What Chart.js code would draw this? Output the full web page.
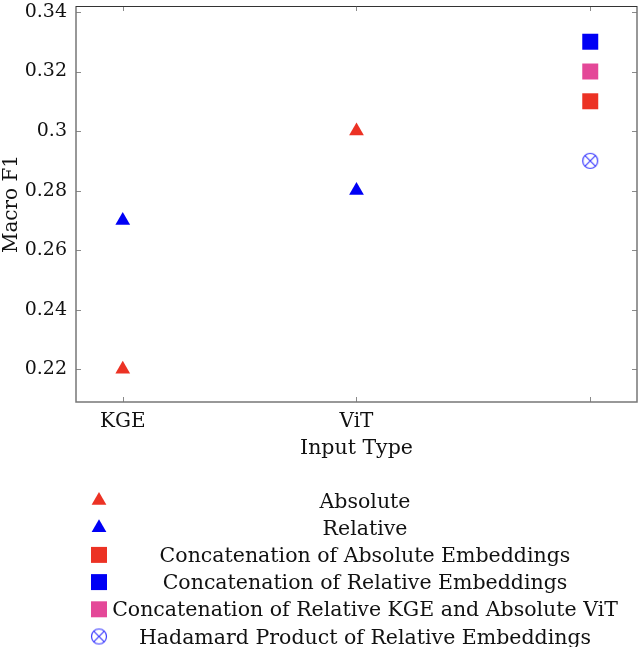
<!DOCTYPE html>
<html>
<head>
<meta charset="utf-8">
<script src="https://cdn.jsdelivr.net/npm/chart.js@4"></script>
<style>
  html, body { margin: 0; padding: 0; background: #fff; }
  #wrap { width: 640px; height: 647px; position: relative; }
</style>
</head>
<body>
<div id="wrap"><canvas id="chart"></canvas></div>
<script>
// --- Data ---
const inputTypes = ['KGE', 'ViT', ''];           // x positions 0, 1, 2
const xTickValues = [0, 1, 2];
const yTickValues = [0.22, 0.24, 0.26, 0.28, 0.30, 0.32, 0.34];

const absoluteVals = [0.22, 0.30];
const relativeVals = [0.27, 0.28];
const concatAbsVals = [0.31];
const concatRelVals = [0.33];
const concatMixVals = [0.32];
const hadamardVals = [0.29];

const seriesLabels = [
    'Absolute',
    'Relative',
    'Concatenation of Absolute Embeddings',
    'Concatenation of Relative Embeddings',
    'Concatenation of Relative KGE and Absolute ViT',
    'Hadamard Product of Relative Embeddings'
];

const RED = 'rgb(236, 50, 36)';
const BLUE = 'rgb(0, 0, 245)';
const PINK = 'rgb(228, 72, 152)';
const FONT = "'DejaVu Serif', 'Liberation Serif', serif";

// circled cross marker
function makeOtimes() {
    const c = document.createElement('canvas');
    c.width = 20; c.height = 20;
    const g = c.getContext('2d');
    g.strokeStyle = 'rgb(60, 60, 255)';
    g.lineWidth = 1.2;
    g.beginPath();
    g.arc(10, 10, 7.5, 0, Math.PI * 2);
    g.stroke();
    const d = 7.5 * Math.SQRT1_2;
    g.beginPath();
    g.moveTo(10 - d, 10 - d); g.lineTo(10 + d, 10 + d);
    g.moveTo(10 + d, 10 - d); g.lineTo(10 - d, 10 + d);
    g.stroke();
    return c;
}
const otimes = makeOtimes();

const pts = (xs, ys) => ys.map((y, i) => ({ x: xs[i], y: y }));

const datasets = [
    { label: seriesLabels[0], data: pts([0, 1], absoluteVals), pointStyle: 'triangle', pointRadius: 8.5, backgroundColor: RED, borderColor: RED, borderWidth: 0 },
    { label: seriesLabels[1], data: pts([0, 1], relativeVals), pointStyle: 'triangle', pointRadius: 8.5, backgroundColor: BLUE, borderColor: BLUE, borderWidth: 0 },
    { label: seriesLabels[2], data: pts([2], concatAbsVals), pointStyle: 'rect', pointRadius: 11.3, backgroundColor: RED, borderColor: RED, borderWidth: 0 },
    { label: seriesLabels[3], data: pts([2], concatRelVals), pointStyle: 'rect', pointRadius: 11.3, backgroundColor: BLUE, borderColor: BLUE, borderWidth: 0 },
    { label: seriesLabels[4], data: pts([2], concatMixVals), pointStyle: 'rect', pointRadius: 11.3, backgroundColor: PINK, borderColor: PINK, borderWidth: 0 },
    { label: seriesLabels[5], data: pts([2], hadamardVals), pointStyle: otimes, pointRadius: 10, backgroundColor: 'transparent', borderColor: 'rgb(60,60,255)', borderWidth: 0 }
];

// frame with inward ticks on all four sides (pgfplots style)
const framePlugin = {
    id: 'frame',
    afterDraw(chart) {
        const { ctx, chartArea: a, scales } = chart;
        ctx.save();
        ctx.lineWidth = 1;
        ctx.strokeStyle = '#8a8a8a';
        const tl = 5;
        ctx.beginPath();
        yTickValues.forEach(v => {
            const y = Math.round(scales.y.getPixelForValue(v)) + 0.5;
            ctx.moveTo(a.left, y); ctx.lineTo(a.left + tl, y);
            ctx.moveTo(a.right, y); ctx.lineTo(a.right - tl, y);
        });
        xTickValues.forEach(v => {
            const x = Math.round(scales.x.getPixelForValue(v)) + 0.5;
            ctx.moveTo(x, a.bottom); ctx.lineTo(x, a.bottom - tl);
            ctx.moveTo(x, a.top); ctx.lineTo(x, a.top + tl);
        });
        ctx.stroke();
        ctx.lineWidth = 1.5;
        ctx.strokeStyle = '#777';
        ctx.beginPath();
        ctx.moveTo(a.left, a.top); ctx.lineTo(a.left, a.bottom); ctx.lineTo(a.right, a.bottom); ctx.lineTo(a.right, a.top);
        ctx.stroke();
        ctx.strokeStyle = '#333';
        ctx.lineWidth = 1;
        ctx.beginPath();
        ctx.moveTo(a.left, a.top + 0.5); ctx.lineTo(a.right, a.top + 0.5);
        ctx.stroke();
        ctx.restore();
    }
};

// legend below the axis: marker column on the left, text centred
const legendPlugin = {
    id: 'stackedLegend',
    afterDraw(chart) {
        const { ctx } = chart;
        const markerX = 99, textX = 365, firstY = 500.5, step = 27.2;
        ctx.save();
        ctx.font = '20.5px ' + FONT;
        ctx.textAlign = 'center';
        ctx.textBaseline = 'alphabetic';
        chart.data.datasets.forEach((ds, i) => {
            const y = firstY + i * step;
            ctx.fillStyle = ds.backgroundColor;
            ctx.strokeStyle = ds.borderColor;
            const r = ds.pointStyle === 'rect' ? 11.3 : (ds.pointStyle === 'triangle' ? 8.5 : 10);
            Chart.helpers.drawPoint(ctx, { pointStyle: ds.pointStyle, radius: r, rotation: 0, borderWidth: 0 }, markerX, y);
            ctx.fillStyle = '#111';
            ctx.fillText(ds.label, textX, y + 7);
        });
        ctx.restore();
    }
};

const ctx = document.getElementById('chart');
new Chart(ctx, {
    type: 'scatter',
    data: { datasets: datasets },
    options: {
        responsive: true,
        maintainAspectRatio: false,
        animation: false,
        layout: { autoPadding: false, padding: { top: 6, right: 3, left: 0, bottom: 175 } },
        plugins: {
            legend: { display: false },
            tooltip: { enabled: false }
        },
        scales: {
            x: {
                type: 'linear',
                min: -0.2,
                max: 2.2,
                grid: { display: false },
                border: { display: false },
                afterBuildTicks: s => { s.ticks = xTickValues.map(v => ({ value: v })); },
                afterFit: s => { s.height = 70; s.paddingLeft = 0; s.paddingRight = 0; },
                ticks: {
                    padding: 0,
                    color: '#111',
                    font: { family: FONT, size: 20 },
                    callback: v => inputTypes[v] ?? ''
                },
                title: {
                    display: true,
                    text: 'Input Type',
                    color: '#111',
                    font: { family: FONT, size: 20.5 },
                    padding: { top: 0, bottom: 11 }
                }
            },
            y: {
                min: 0.209,
                max: 0.342,
                grid: { display: false },
                border: { display: false },
                afterBuildTicks: s => { s.ticks = yTickValues.map(v => ({ value: v })); },
                afterFit: s => { s.width = 76; s.paddingTop = 0; s.paddingBottom = 0; },
                ticks: {
                    padding: 1,
                    color: '#111',
                    font: { family: FONT, size: 19 },
                    callback: v => String(+v.toFixed(2))
                },
                title: {
                    display: true,
                    text: 'Macro F1',
                    color: '#111',
                    font: { family: FONT, size: 20 },
                    padding: { top: 0, bottom: 0 }
                }
            }
        }
    },
    plugins: [framePlugin, legendPlugin]
});
</script>
</body>
</html>
